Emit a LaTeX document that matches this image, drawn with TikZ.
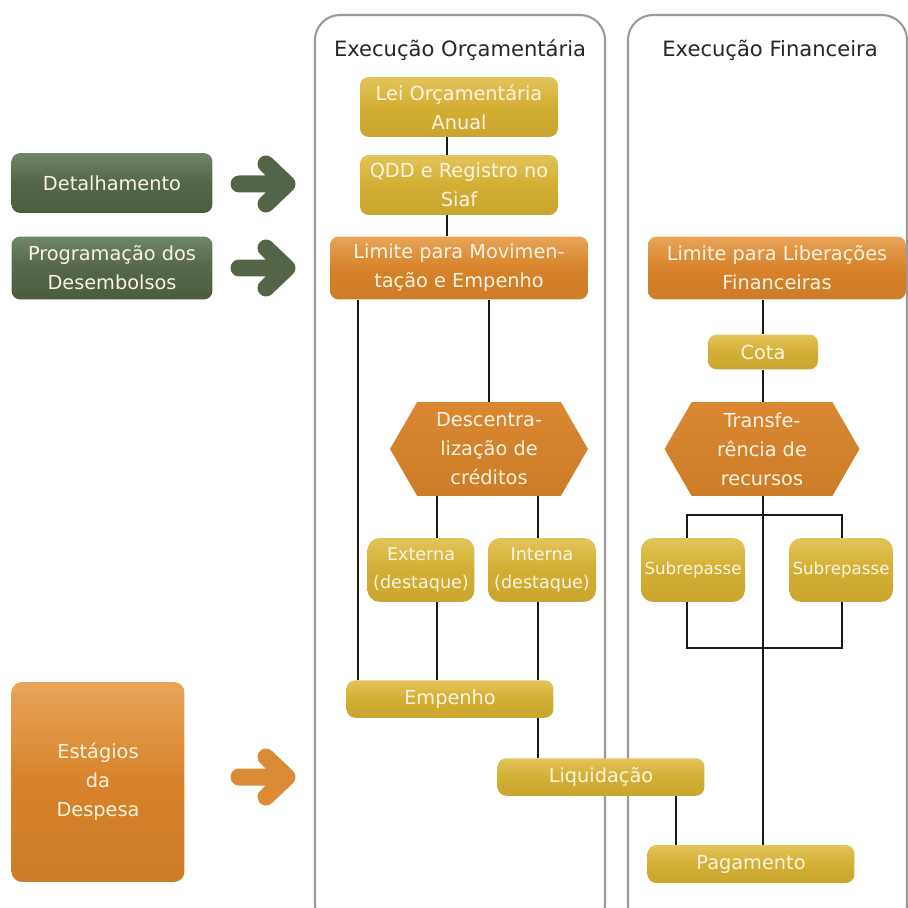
\documentclass[tikz,border=0pt]{standalone}
\usepackage{fontspec}
\setmainfont{DejaVu Sans}
\usetikzlibrary{shapes.symbols,calc}

\definecolor{ouro}{HTML}{D3AE33}
\definecolor{ouroclaro}{HTML}{E2C45A}
\definecolor{laranja}{HTML}{D7822A}
\definecolor{laranjaclaro}{HTML}{E8A55A}
\definecolor{verde}{HTML}{4C5C3F}
\definecolor{verdeclaro}{HTML}{6F8566}
\definecolor{moldura}{HTML}{9B9B9B}
\definecolor{textoclaro}{HTML}{FBF4E4}

\tikzset{
  caixa/.style={rounded corners=5pt, align=center, text=textoclaro, inner sep=1pt,
    font=\fontsize{11}{16.5}\selectfont},
  cxouro/.style={caixa, top color=ouroclaro, bottom color=ouro!95!black, middle color=ouro},
  cxlaranja/.style={caixa, top color=laranjaclaro, bottom color=laranja!95!black, middle color=laranja},
  cxverde/.style={caixa, top color=verdeclaro, bottom color=verde, middle color=verde!75!verdeclaro},
  hexa/.style={signal, signal to=east and west, signal pointer angle=120, align=center,
    text=textoclaro, inner sep=0pt, font=\fontsize{11}{16.5}\selectfont,
    top color=laranja!85!laranjaclaro, bottom color=laranja!95!black},
  painel/.style={draw=moldura, line width=1.2pt, rounded corners=0.5cm},
  titulo/.style={font=\fontsize{12}{14}\selectfont, text=black!85},
  liga/.style={line width=1.1pt, draw=black!90},
  seta/.style={line width=0.34cm, line cap=round, line join=round}
}

\begin{document}
\begin{tikzpicture}[x=0.02cm, y=-0.02cm]
\useasboundingbox (0,0) rectangle (908,908);

% paineis
\draw[painel] (315,15) rectangle (605,930);
\draw[painel] (628,15) rectangle (907,930);
\node[titulo] (tor) at (460,50) {Execução Orçamentária};
\node[titulo] (tfi) at (770,50) {Execução Financeira};

% lado esquerdo
\node[cxverde, minimum width=4.02cm, minimum height=1.2cm] (det) at (112,183) {Detalhamento};
\node[cxverde, minimum width=4.02cm, minimum height=1.26cm] (prog) at (112,268)
    {Programação dos\\Desembolsos};
\node[cxlaranja, rounded corners=6pt, minimum width=3.46cm, minimum height=4cm] (est) at (98,782)
    {Estágios\\da\\Despesa};

\coordinate (s1a) at (239,184); \coordinate (s1b) at (287,184);
\coordinate (s2a) at (239,268); \coordinate (s2b) at (287,268);
\coordinate (s3a) at (239,777); \coordinate (s3b) at (287,777);
\draw[seta, draw=verde!80!verdeclaro] (s1a) -- (s1b) ++(-21,-20) -- (s1b) -- ++(-21,20);
\draw[seta, draw=verde!80!verdeclaro] (s2a) -- (s2b) ++(-21,-20) -- (s2b) -- ++(-21,20);
\draw[seta, draw=laranja!75!laranjaclaro] (s3a) -- (s3b) ++(-21,-20) -- (s3b) -- ++(-21,20);

% execucao orcamentaria
\node[cxouro, minimum width=3.96cm, minimum height=1.2cm] (lei) at (459,107)
    {Lei Orçamentária\\Anual};
\node[cxouro, minimum width=3.96cm, minimum height=1.2cm] (qdd) at (459,185)
    {QDD e Registro no\\Siaf};
\node[cxlaranja, minimum width=5.16cm, minimum height=1.26cm] (limmov) at (459,268)
    {Limite para Movimen-\\tação e Empenho};
\node[hexa, minimum width=3.96cm, minimum height=1.88cm] (desc) at (489,449)
    {Descentra-\\lização de\\créditos};
\node[cxouro, rounded corners=7pt, minimum width=2.14cm, minimum height=1.28cm,
      font=\fontsize{10}{15.5}\selectfont] (ext) at (421,570) {Externa\\(destaque)};
\node[cxouro, rounded corners=7pt, minimum width=2.16cm, minimum height=1.28cm,
      font=\fontsize{10}{15.5}\selectfont] (int) at (542,570) {Interna\\(destaque)};
\node[cxouro, minimum width=4.14cm, minimum height=0.75cm] (emp) at (450,699) {Empenho};
\node[cxouro, minimum width=4.14cm, minimum height=0.75cm] (liq) at (601,777) {Liquidação};

% execucao financeira
\node[cxlaranja, minimum width=5.16cm, minimum height=1.26cm] (limlib) at (777,268)
    {Limite para Liberações\\Financeiras};
\node[cxouro, minimum width=2.2cm, minimum height=0.7cm] (cota) at (763,352) {Cota};
\node[hexa, minimum width=3.9cm, minimum height=1.88cm] (transf) at (762,449)
    {Transfe-\\rência de\\recursos};
\node[cxouro, rounded corners=7pt, minimum width=2.08cm, minimum height=1.28cm,
      font=\fontsize{9.5}{12}\selectfont] (sub1) at (693,570) {Subrepasse};
\node[cxouro, rounded corners=7pt, minimum width=2.08cm, minimum height=1.28cm,
      font=\fontsize{9.5}{12}\selectfont] (sub2) at (841,570) {Subrepasse};
\node[cxouro, minimum width=4.14cm, minimum height=0.76cm] (pag) at (751,864) {Pagamento};

% ligacoes
\coordinate (eixo) at (447,0);
\coordinate (esq) at (358,0);
\coordinate (extx) at (437,0);
\coordinate (intx) at (538,0);
\coordinate (liqx) at (676,0);
\coordinate (finx) at (763,0);
\coordinate (s1x) at (687,0);
\coordinate (s2x) at (842,0);
\coordinate (rtopo) at (763,515);
\coordinate (rbase) at (763,648);

\draw[liga] (lei.south -| eixo) -- (qdd.north -| eixo);
\draw[liga] (qdd.south -| eixo) -- (limmov.north -| eixo);
\draw[liga] (limmov.south -| esq) -- (emp.north -| esq);
\draw[liga] (limmov.south -| desc.north) -- (desc.north);
\draw[liga] (desc.south -| extx) -- (ext.north -| extx);
\draw[liga] (desc.south -| intx) -- (int.north -| intx);
\draw[liga] (ext.south -| extx) -- (emp.north -| extx);
\draw[liga] (int.south -| intx) -- (emp.north -| intx);
\draw[liga] (emp.south -| intx) -- (liq.north -| intx);
\draw[liga] (liq.south -| liqx) -- (pag.north -| liqx);

\draw[liga] (limlib.south -| finx) -- (cota.north -| finx);
\draw[liga] (cota.south -| finx) -- (transf.north -| finx);
\draw[liga] (transf.south -| finx) -- (pag.north -| finx);
\draw[liga] (sub1.north -| s1x) |- (rtopo) -| (sub2.north -| s2x);
\draw[liga] (sub1.south -| s1x) |- (rbase) -| (sub2.south -| s2x);
\end{tikzpicture}
\end{document}
